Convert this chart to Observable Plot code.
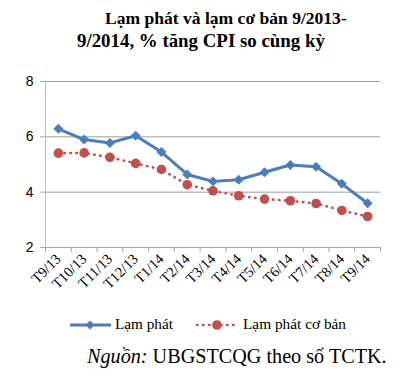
<!DOCTYPE html>
<html>
<head>
<meta charset="utf-8">
<script src="https://cdn.jsdelivr.net/npm/d3@7"></script>
<script src="https://cdn.jsdelivr.net/npm/@observablehq/plot@0.6"></script>
<style>
  html, body { margin: 0; padding: 0; background: #fff; }
  #wrap { position: relative; width: 419px; height: 381px; overflow: hidden; }
  #wrap svg { position: absolute; left: 0; top: 0; }
  .t { position: absolute; white-space: nowrap; color: #000; font-family: "Liberation Serif", "Times New Roman", serif; line-height: 1; }
  .title { font-weight: bold; font-size: 17.5px; }
  .leg { font-size: 15px; }
  .src { font-size: 17px; }
</style>
</head>
<body>
<div id="wrap">
  <div class="t title" id="t1" data-w="242" data-b="26" style="left:105px;">Lạm phát và lạm cơ bản 9/2013-</div>
  <div class="t title" id="t2" data-w="248" data-b="49" style="left:77px;">9/2014, % tăng CPI so cùng kỳ</div>
  <div class="t leg" id="l1" data-w="58" data-b="330" style="left:115px;">Lạm phát</div>
  <div class="t leg" id="l2" data-w="103" data-b="330" style="left:243px;">Lạm phát cơ bản</div>
  <div class="t src" id="s1" data-w="300" data-b="364" style="left:87px;"><i>Nguồn:</i> UBGSTCQG theo số TCTK.</div>
</div>
<script>
const months = ["T9/13","T10/13","T11/13","T12/13","T1/14","T2/14","T3/14","T4/14","T5/14","T6/14","T7/14","T8/14","T9/14"];
const headline = [6.29, 5.90, 5.78, 6.04, 5.45, 4.64, 4.39, 4.45, 4.72, 4.98, 4.92, 4.30, 3.60];
const core = [5.41, 5.42, 5.26, 5.04, 4.82, 4.27, 4.05, 3.87, 3.75, 3.69, 3.59, 3.34, 3.12];
const yTicks = [2, 4, 6, 8];
const seriesNames = ["Lạm phát", "Lạm phát cơ bản"];

const blue = "#4A7EBB";
const red = "#C0504D";

const idx = months.map((_, i) => i);
const A = months.map((m, i) => ({i, m, v: headline[i]}));
const B = months.map((m, i) => ({i, m, v: core[i]}));
const boundaries = d3.range(-0.5, months.length, 1);

const chart = Plot.plot({
  width: 419,
  height: 381,
  marginLeft: 45,
  marginRight: 39,
  marginTop: 81,
  marginBottom: 134,
  style: {background: "transparent", overflow: "visible"},
  x: {type: "linear", domain: [-0.5, months.length - 0.5]},
  y: {domain: [2, 8]},
  marks: [
    Plot.gridY(yTicks.slice(1), {stroke: "#9c9c9c", strokeOpacity: 1, strokeWidth: 1}),
    Plot.ruleY([2], {stroke: "#a6a6a6", strokeWidth: 1}),
    Plot.ruleX([-0.5], {stroke: "#bdbdbd", strokeWidth: 1}),
    Plot.axisY({ticks: yTicks, tickSize: 5, stroke: "#a6a6a6", tickPadding: 7, tickFormat: d => String(d), fontSize: 14, fontFamily: "Liberation Sans, Arial, sans-serif", fill: "#000", label: null}),
    Plot.axisX({ticks: boundaries, tickSize: 5, stroke: "#a6a6a6", tickFormat: () => "", label: null}),
    Plot.axisX({ticks: idx, tickSize: 0, tickPadding: 9, tickRotate: -45, tickFormat: i => months[i], fontSize: 14.5, fontFamily: "Liberation Serif, Times New Roman, serif", fill: "#000", label: null}),
    Plot.line(B, {x: "i", y: "v", stroke: red, strokeWidth: 2.6, strokeDasharray: "0.5,5.5", strokeLinecap: "round"}),
    Plot.dot(B, {x: "i", y: "v", r: 4.8, fill: red, stroke: "none"}),
    Plot.line(A, {x: "i", y: "v", stroke: blue, strokeWidth: 3}),
    Plot.dot(A, {x: "i", y: "v", symbol: "diamond2", r: 4.5, fill: blue, stroke: "none"})
  ]
});
document.getElementById("wrap").prepend(chart);

// fit text widths to reference by scaling font size, then place baseline
document.querySelectorAll(".t").forEach(el => {
  const target = +el.dataset.w;
  const fs0 = parseFloat(getComputedStyle(el).fontSize);
  const w = el.getBoundingClientRect().width;
  const fs = fs0 * target / w;
  el.style.fontSize = fs.toFixed(2) + "px";
  el.style.top = (+el.dataset.b - fs * 0.891).toFixed(1) + "px";
});

// legend samples
const leg = d3.select("#wrap").append("svg").attr("width", 419).attr("height", 381).style("position", "absolute").style("left", 0).style("top", 0);
leg.append("line").attr("x1", 70).attr("x2", 111).attr("y1", 325).attr("y2", 325).attr("stroke", blue).attr("stroke-width", 3);
leg.append("path").attr("d", d3.symbol(d3.symbolDiamond2, 50)()).attr("transform", "translate(90,325)").attr("fill", blue);
leg.append("line").attr("x1", 197).attr("x2", 236).attr("y1", 325).attr("y2", 325).attr("stroke", red).attr("stroke-width", 2.6).attr("stroke-dasharray", "0.5,5.5").attr("stroke-linecap", "round");
leg.append("circle").attr("cx", 217).attr("cy", 325).attr("r", 4.8).attr("fill", red);
</script>
</body>
</html>
